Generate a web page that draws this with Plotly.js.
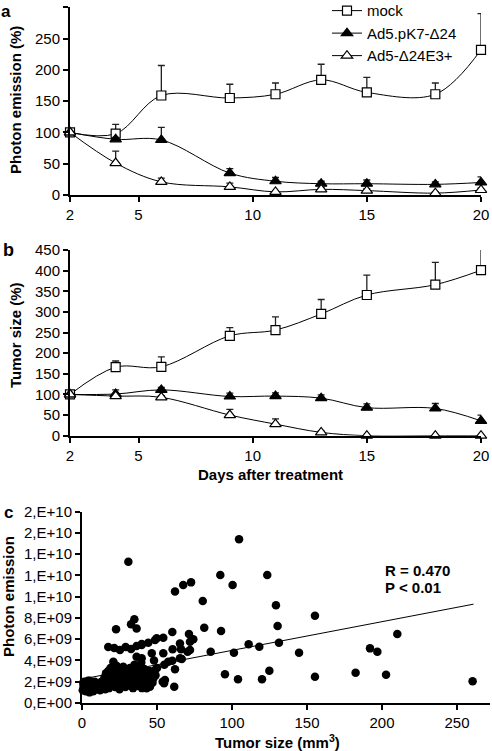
<!DOCTYPE html>
<html><head><meta charset="utf-8">
<script src="https://cdn.plot.ly/plotly-3.0.1.min.js"></script>
<style>html,body{margin:0;padding:0;background:#fff}#chart{width:492px;height:751px}</style>
</head><body><div id="chart"></div>
<script>
// ---- data ----
const days = [2, 4, 6, 9, 11, 13, 15, 18, 20];
const seriesNames = ['mock', 'Ad5.pK7-\u039424', 'Ad5-\u039424E3+'];

// panel a: photon emission (%)
const mockA    = [100, 98, 159, 155, 161, 184, 164, 161, 232];
const mockAErr = [0, 15, 48, 22, 18, 25, 24, 18, 58];
const pk7A     = [100, 89, 88, 35, 22, 18, 18, 17, 20];
const pk7AErr  = [0, 3, 20, 7, 6, 4, 6, 4, 9];
const e3A      = [100, 51, 21, 13, 5, 9, 7, 3, 8];
const e3AErr   = [0, 19, 6, 6, 2, 3, 3, 2, 3];

// panel b: tumor size (%)
const mockB    = [100, 166, 167, 242, 256, 295, 341, 366, 401];
const mockBErr = [0, 15, 24, 20, 32, 35, 48, 54, 60];
const pk7B     = [100, 101, 111, 95, 96, 91, 68, 66, 36];
const pk7BErr  = [0, 10, 6, 8, 8, 8, 9, 12, 14];
const e3B      = [100, 96, 93, 50, 28, 8, 0, 0, 0];
const e3BErr   = [0, 4, 4, 14, 13, 3, 0, 0, 0];

const dayTicks = [2, 5, 10, 15, 20];

// panel c: tumor size (mm3) vs photon emission (x1e9)
const tumorSize = [
 30.9, 62, 67.5, 72.7, 22.7, 34.9, 32.7, 36.4, 54.2, 60.2, 65.3, 71.3, 74.2,
 104.7, 92.2, 100.4, 123.5, 80.5, 129.3, 130.4, 81.5, 92.7, 72, 85.8, 101.3, 111.1, 118.2, 131.3, 95.3, 104, 120, 124.9,
 155.3, 144.7, 192, 196.9, 210.2, 155.3, 182.4, 202.7, 260.4,
 48.7, 44.2, 39.8, 46.5, 36.4, 54.2, 57.5, 60.2, 62, 55.3, 54.7, 61.5, 48.7, 47.5, 45.3, 43.1, 38.7, 35.3, 66.5, 70.4, 72, 49.8, 60.4, 66, 65.3, 53.8, 54.9,
 17.5, 21.5, 25.3, 29.1, 32.7, 36.4, 39.8, 20.9, 39.8,
 0.5, 1, 1.5, 2, 2.5, 3, 3.5, 4, 4.5, 5, 5.5, 6, 6.5, 7, 7.5, 8, 8.5, 9, 10, 0.8, 2.8, 5.2, 7.8,
 11, 12, 13, 14, 15, 15.5, 16, 17, 17.5, 18, 18.5, 19, 20, 20.5,
 21, 22, 23, 23.5, 24, 25, 25.5, 26, 27, 27.5, 28, 29, 29.5, 30,
 31, 31.5, 32, 33, 33.5, 34, 35, 35.5, 36, 37, 37.5, 38, 39, 39.5, 40,
 41, 41.5, 42, 43, 44, 45, 46, 47, 48, 49, 50
];
const photonE9 = [
 13.3, 10.5, 11.1, 11.35, 6.93, 7.87, 7.4, 7.0, 6.14, 6.68, 5.6, 6.5, 6.0,
 15.4, 12.04, 11.1, 12.04, 9.6, 9.2, 7.24, 7.08, 6.77, 4.99, 4.83, 4.73, 5.52, 5.3, 5.67, 2.7, 2.23, 2.23, 3.04,
 8.2, 4.73, 5.14, 4.83, 6.49, 2.47, 2.85, 2.66, 2.04,
 5.93, 5.67, 5.55, 4.68, 4.36, 4.68, 3.89, 3.98, 3.17, 2.16, 1.85, 1.53, 3.1, 2.3, 1.53, 1.38, 1.69, 1.85, 4.14, 4.83, 5.77, 6.09, 5.05, 5.05, 4.2, 2.0, 3.6,
 5.27, 5.17, 4.99, 5.27, 5.08, 5.36, 5.46, 3.89, 4.2,
 1.2, 1.6, 2.0, 1.4, 1.1, 1.8, 1.3, 2.1, 1.5, 1.0, 1.7, 1.2, 1.9, 1.4, 1.1, 1.6, 2.0, 1.3, 1.7, 1.9, 1.5, 2.1, 1.8,
 1.5, 1.2, 2.0, 1.6, 2.4, 1.3, 2.8, 1.9, 3.0, 1.4, 2.5, 3.3, 1.7, 2.2,
 2.9, 1.5, 3.5, 2.0, 2.6, 1.3, 3.1, 2.3, 1.8, 3.4, 2.7, 1.5, 2.1, 3.0,
 2.4, 1.7, 3.3, 2.0, 2.8, 1.4, 3.6, 2.2, 2.9, 1.6, 3.2, 2.5, 2.0, 3.8, 1.4,
 2.6, 3.2, 1.9, 2.9, 2.3, 3.0, 2.6, 1.9, 4.0, 2.6, 3.3
];
const fitX = [0, 261];
const fitY = [2.25, 9.3];
const photonTicks = [0, 2, 4, 6, 8, 10, 12, 14, 16, 18];
const photonTickText = ['0,E+00','2,E+09','4,E+09','6,E+09','8,E+09','1,E+10','1,E+10','1,E+10','2,E+10','2,E+10'];
const sizeTicks = [0, 50, 100, 150, 200, 250];

// ---- styling ----
const FONT = 'Liberation Sans, Arial, sans-serif';
const W = 492, H = 751;
const px = v => v / W, py = v => 1 - v / H;

function series(x, y, err, name, symbol, fill, xa, ya, showlegend) {
  return {
    x: x, y: y, name: name, type: 'scatter', mode: 'lines+markers',
    xaxis: xa, yaxis: ya, showlegend: showlegend, cliponaxis: false,
    line: {color: '#000', width: 1, shape: 'spline', smoothing: 1},
    marker: {symbol: symbol, size: symbol === 'square' ? 9 : 10, color: fill, line: {color: '#000', width: 1.2}},
    error_y: {type: 'data', symmetric: false, array: err, arrayminus: err.map(() => 0),
              color: '#222', thickness: 1.3, width: 3.5}
  };
}

const traces = [
  series(days, mockA, mockAErr, seriesNames[0], 'square', '#fff', 'x', 'y', true),
  series(days, pk7A, pk7AErr, seriesNames[1], 'triangle-up', '#000', 'x', 'y', true),
  series(days, e3A, e3AErr, seriesNames[2], 'triangle-up', '#fff', 'x', 'y', true),
  series(days, mockB, mockBErr, seriesNames[0], 'square', '#fff', 'x2', 'y2', false),
  series(days, pk7B, pk7BErr, seriesNames[1], 'triangle-up', '#000', 'x2', 'y2', false),
  series(days, e3B, e3BErr, seriesNames[2], 'triangle-up', '#fff', 'x2', 'y2', false),
  {x: fitX, y: fitY, type: 'scatter', mode: 'lines', xaxis: 'x3', yaxis: 'y3', showlegend: false,
   line: {color: '#000', width: 1}},
  {x: tumorSize, y: photonE9, type: 'scatter', mode: 'markers', xaxis: 'x3', yaxis: 'y3', showlegend: false,
   cliponaxis: false, marker: {color: '#000', size: 8.5}}
];

const axBase = {
  showgrid: false, zeroline: false, showline: true, linecolor: '#000', linewidth: 2,
  ticks: 'outside', ticklen: 5, tickwidth: 2, tickcolor: '#000',
  tickfont: {family: FONT, size: 15, color: '#000'}, automargin: false, fixedrange: true
};

function note(text, x, y, size, angle, xanchor) {
  return {text: text, x: px(x), y: py(y), xref: 'paper', yref: 'paper', showarrow: false,
          xanchor: xanchor || 'center', yanchor: 'middle', textangle: angle || 0,
          font: {size: size, family: FONT, color: '#000'}};
}

const layout = {
  width: W, height: H, margin: {l: 0, r: 0, t: 0, b: 0, pad: 0, autoexpand: false},
  paper_bgcolor: '#fff', plot_bgcolor: '#fff',
  font: {family: FONT, color: '#000'},
  xaxis: Object.assign({}, axBase, {domain: [px(70), px(481)], range: [2, 20], tickvals: dayTicks, anchor: 'y'}),
  yaxis: Object.assign({}, axBase, {domain: [py(195), py(7.3)], range: [0, 300], dtick: 50, anchor: 'x'}),
  xaxis2: Object.assign({}, axBase, {domain: [px(70), px(481)], range: [2, 20], tickvals: dayTicks, anchor: 'y2'}),
  yaxis2: Object.assign({}, axBase, {domain: [py(435.7), py(250)], range: [0, 450], dtick: 50, anchor: 'x2'}),
  xaxis3: Object.assign({}, axBase, {domain: [px(82), px(490)], range: [0, 272], tickvals: sizeTicks, anchor: 'y3'}),
  yaxis3: Object.assign({}, axBase, {domain: [py(703), py(511.7)], range: [0, 18], tickvals: photonTicks, ticktext: photonTickText, anchor: 'x3'}),
  showlegend: true,
  legend: {x: px(327), y: 1.0075, xanchor: 'left', yanchor: 'top', bgcolor: 'rgba(0,0,0,0)',
           font: {family: FONT, size: 15, color: '#000'}, tracegroupgap: 0},
  annotations: [
    note('<b>a</b>', 6, 11, 17),
    note('<b>b</b>', 8, 250, 18),
    note('<b>c</b>', 8, 512, 17),
    note('<b>Photon emission (%)</b>', 15, 100, 15, -90),
    note('<b>Tumor size (%)</b>', 15, 335, 15, -90),
    note('<b>Days after treatment</b>', 270, 474, 15),
    note('<b>Photon emission</b>', 8, 597, 15, -90),
    note('<b>Tumor size (mm<sup>3</sup>)</b>', 277, 741, 15),
    note('<b>R = 0.470</b>', 383, 570, 15, 0, 'left'),
    note('<b>P < 0.01</b>', 383, 587, 15, 0, 'left')
  ]
};

Plotly.newPlot('chart', traces, layout, {displayModeBar: false, staticPlot: true});
</script>
</body></html>
